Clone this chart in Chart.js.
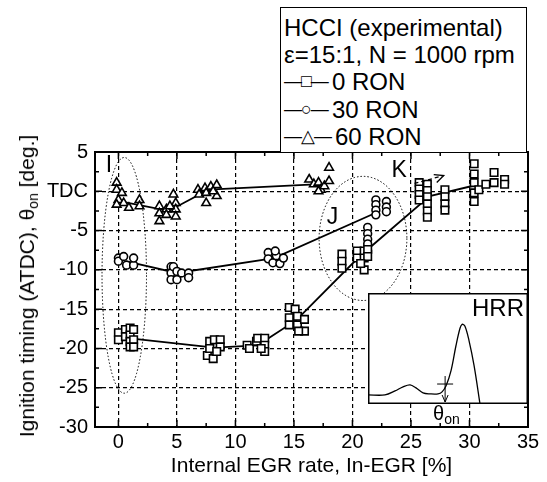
<!DOCTYPE html>
<html>
<head>
<meta charset="utf-8">
<script src="https://cdn.jsdelivr.net/npm/chart.js@4.4.1/dist/chart.umd.min.js"></script>
<style>
html, body { margin: 0; padding: 0; background: #fff; }
#wrap { position: relative; width: 547px; height: 482px; font-family: Arial, "Liberation Sans", sans-serif; color: #000; }
#main { position: absolute; left: 0; top: 0; }
#legend { position: absolute; left: 280px; top: 7px; width: 247px; height: 146px; box-sizing: border-box;
  border: 1.3px solid #000; background: #fff; font-size: 24px; line-height: 26.5px; padding: 7px 0 0 3px; white-space: nowrap; }
#legend .sym { font-size: 18px; letter-spacing: -1px; margin-right: 4px; vertical-align: 3px; }
#ytitle { position: absolute; left: 28px; top: 286px; transform: translate(-50%, -50%) rotate(-90deg);
  white-space: nowrap; font-size: 21px; }
#ytitle sub, #theta sub { font-size: 14px; vertical-align: -4px; }
#inset { position: absolute; left: 368px; top: 293px; width: 160px; height: 111px; }
#inset canvas { position: absolute; left: 0; top: 0; }
#hrr { position: absolute; right: 4px; top: 1px; font-size: 24px; }
#theta { position: absolute; left: 433px; top: 402px; font-size: 20px; }
</style>
</head>
<body>
<div id="wrap">
  <canvas id="main" width="547" height="482"></canvas>
  <div id="legend">
    HCCI (experimental)<br>
    ε=15:1, N = 1000 rpm<br>
    <span class="sym">—□—</span>0 RON<br>
    <span class="sym">—○—</span>30 RON<br>
    <span class="sym">—△—</span>60 RON
  </div>
  <div id="ytitle">Ignition timing (ATDC), θ<sub>on</sub> [deg.]</div>
  <div id="inset"><canvas id="hrrChart" width="160" height="111"></canvas><div id="hrr">HRR</div></div>
  <div id="theta">θ<sub>on</sub></div>
</div>
<script>
// ignition timing data (In-EGR %, deg ATDC)
const ron0X = [0, 0, 0.6, 0.6, 1, 1, 1, 1, 1.3, 1.3, 1.3,
  7.6, 7.8, 7.8, 8.1, 8.2, 8.7, 8.7, 8.4,
  11, 11.2, 11.8, 11.9, 12.5, 12.5, 12.5, 12.2,
  14.6, 14.6, 14.6, 15.1, 15.3, 15.3, 15.9, 15.9, 15.4,
  19.1, 19.1, 19.1, 20.4, 20.4, 21, 21, 21, 21.3, 21.3, 20.7,
  25.7, 25.7, 25.7, 25.7, 26.4, 26.4, 26.4, 26.4, 26.4, 26.4, 27.9, 27.9, 27.9, 27.9,
  30.4, 30.4, 30.4, 30.4, 30.4, 30.8, 31.4, 32.1, 32.1, 33, 33];
const ron0Y = [-18, -18.9, -17.6, -18.5, -17.4, -18.3, -19.1, -19.8, -17.6, -18.9, -19.8,
  -20.9, -19.1, -20, -21.3, -18.9, -18.9, -19.8, -20.4,
  -19.6, -20, -19.1, -18.7, -18.7, -19.6, -20.4, -20,
  -14.8, -16.1, -17, -15, -15.9, -17, -16.3, -17.8, -17.8,
  -8, -8.9, -9.8, -7.6, -8.5, -7.6, -8.5, -10, -7.4, -8.3, -9.2,
  1.1, 0.3, -0.4, -1.1, 0.9, 0.1, -0.7, -1.6, -2.5, -3.3, 0.2, -0.7, -1.6, -2.4,
  3.5, 2.2, 1.1, -0.2, -1.3, 0.2, 0.9, 2.4, 1.1, 1.5, 0.9];
const ron0MeanX = [0.8, 8.2, 11.9, 15.2, 20.6, 26.6, 30.6];
const ron0MeanY = [-18.7, -19.9, -19.6, -16.4, -8.3, -0.6, 0.8];

const ron30X = [0, 0, 0.45, 0.7, 1.3, 1.3,
  4.5, 4.5, 4.5, 4.7, 5, 5, 5.4, 6, 6,
  12.8, 12.8, 13.2, 13.5, 13.8, 14.1, 13.4,
  21.3, 21.3, 21.3, 21.3, 21.3, 22, 22, 22, 22, 22.9, 22.9, 22.9];
const ron30Y = [-8.5, -8.9, -8.3, -9.4, -9.4, -8.5,
  -9.6, -10.4, -11.25, -9.6, -10.2, -11.25, -10.4, -10.4, -11,
  -7.8, -8.6, -9.1, -8.2, -9.2, -8.5, -7.6,
  -4.6, -5.4, -6.1, -6.7, -7.6, -1.1, -1.7, -2.4, -3, -1.3, -2, -2.6];
const ron30MeanX = [0.6, 5.0, 13.3, 22.2];
const ron30MeanY = [-8.9, -10.4, -8.5, -2.6];

const ron60X = [-0.15, -0.15, 0.3, 0, 0.45, 0.9, 1.8, 1.8, -0.15,
  3.5, 3.5, 3.5, 4.1, 4.1, 4.7, 4.9, 4.9, 4.9, 4.4,
  6.8, 6.9, 7.4, 7.5, 7.5, 7.9, 8.4, 8.4, 8.1,
  16.3, 16.7, 17.1, 17.3, 17.6, 18, 18, 17.1];
const ron60Y = [1.1, 0.2, -0.2, -1.1, -1.5, -2.1, -1.1, -1.9, -1.7,
  -1.9, -2.8, -3.8, -2.3, -3.0, -0.4, -1.5, -2.3, -3.2, -1.9,
  0.2, -0.4, 0.4, -0.2, -1.5, 0.6, 0.8, -0.6, 0,
  1.5, 0.9, 1.1, 0.2, 0.65, 1.3, 3.0, 0];
const ron60MeanX = [0.6, 4.3, 7.7, 17.2];
const ron60MeanY = [-1.4, -2.5, 0.2, 0.9];

const xTicks = [0, 5, 10, 15, 20, 25, 30, 35];
const yTicks = [-30, -25, -20, -15, -10, -5, 0, 5];

// inset heat release rate trace (arbitrary units)
const hrrAngle = [0, 10.6, 16.9, 21.9, 26.3, 30, 34.4, 38.8, 43.8, 46.3, 48.8, 51.9, 55, 57.5, 58.8, 60.6, 63.1, 66.3, 70];
const hrrRate = [8.2, 8.2, 11.8, 15.5, 17.3, 14.5, 10, 9.1, 9.1, 10.9, 16.4, 30, 52.7, 68.2, 71.8, 70, 57.3, 34.5, 0];
const onsetAngle = 48.2;
const onsetRate = 18;

const FONT = 'Arial, "Liberation Sans", sans-serif';
const zip = (xs, ys) => xs.map((v, i) => ({x: v, y: ys[i]}));

const markerStyle = {
  borderColor: '#000', backgroundColor: '#fff', borderWidth: 1.6,
  showLine: false, order: 1
};
const meanStyle = {
  type: 'line', borderColor: '#000', borderWidth: 1.8, pointRadius: 0,
  fill: false, tension: 0, order: 2
};

const decor = {
  id: 'decor',
  afterDatasetsDraw(chart) {
    const {ctx, scales: {x, y}} = chart;
    ctx.save();
    ctx.strokeStyle = '#000';
    ctx.lineWidth = 1;
    ctx.setLineDash([1.5, 2]);
    const ellipse = (cx, cy, rx, ry) => {
      const px = x.getPixelForValue(cx), py = y.getPixelForValue(cy);
      const prx = Math.abs(x.getPixelForValue(cx + rx) - px);
      const pry = Math.abs(y.getPixelForValue(cy + ry) - py);
      ctx.beginPath();
      ctx.ellipse(px, py, prx, pry, 0, 0, Math.PI * 2);
      ctx.stroke();
    };
    ellipse(0.5, -10.7, 1.9, 15);
    ellipse(20.9, -6, 3.75, 7.9);

    // K arrow
    ctx.setLineDash([4, 3]);
    ctx.lineWidth = 1.3;
    const ax0 = x.getPixelForValue(25.3), ay0 = y.getPixelForValue(1.0);
    const ax1 = x.getPixelForValue(27.8), ay1 = y.getPixelForValue(2.0);
    ctx.beginPath();
    ctx.moveTo(ax0, ay0); ctx.lineTo(ax1, ay1);
    ctx.stroke();
    ctx.setLineDash([]);
    ctx.beginPath();
    ctx.moveTo(ax1 - 10, ay1 - 1); ctx.lineTo(ax1, ay1); ctx.lineTo(ax1 - 7, ay1 + 7);
    ctx.stroke();

    ctx.fillStyle = '#000';
    ctx.font = '23px ' + FONT;
    ctx.textAlign = 'center';
    ctx.textBaseline = 'middle';
    ctx.fillText('I', x.getPixelForValue(-0.8), y.getPixelForValue(3.2));
    ctx.fillText('J', x.getPixelForValue(18.3), y.getPixelForValue(-3.3));
    ctx.fillText('K', x.getPixelForValue(24), y.getPixelForValue(2.6));
    ctx.restore();
  },
  afterDraw(chart) {
    const {ctx, chartArea: a, scales: {x, y}} = chart;
    ctx.save();
    ctx.strokeStyle = '#000';
    ctx.lineWidth = 2;
    ctx.strokeRect(a.left, a.top, a.right - a.left, a.bottom - a.top);
    ctx.lineWidth = 1.5;
    ctx.beginPath();
    for (let v = 0; v <= 35; v += 2.5) {
      const p = x.getPixelForValue(v), L = v % 5 ? 4 : 7;
      ctx.moveTo(p, a.bottom); ctx.lineTo(p, a.bottom - L);
      ctx.moveTo(p, a.top); ctx.lineTo(p, a.top + L);
    }
    for (let v = -30; v <= 5; v += 2.5) {
      const p = y.getPixelForValue(v), L = v % 5 ? 4 : 7;
      ctx.moveTo(a.left, p); ctx.lineTo(a.left + L, p);
      ctx.moveTo(a.right, p); ctx.lineTo(a.right - L, p);
    }
    ctx.stroke();
    ctx.restore();
  }
};

new Chart(document.getElementById('main'), {
  type: 'scatter',
  plugins: [decor],
  data: {
    datasets: [
      {...markerStyle, label: '0 RON', data: zip(ron0X, ron0Y), pointStyle: 'rect', pointRadius: 5.3},
      {...markerStyle, label: '30 RON', data: zip(ron30X, ron30Y), pointStyle: 'circle', pointRadius: 3.9},
      {...markerStyle, label: '60 RON', data: zip(ron60X, ron60Y), pointStyle: 'triangle', pointRadius: 5},
      {...meanStyle, data: zip(ron0MeanX, ron0MeanY)},
      {...meanStyle, data: zip(ron30MeanX, ron30MeanY)},
      {...meanStyle, data: zip(ron60MeanX, ron60MeanY)}
    ]
  },
  options: {
    responsive: false,
    animation: false,
    layout: {padding: {left: 0, right: 19, top: 152, bottom: 0}},
    plugins: {legend: {display: false}, tooltip: {enabled: false}},
    scales: {
      x: {
        type: 'linear', min: -2, max: 35,
        afterBuildTicks: s => { s.ticks = xTicks.map(v => ({value: v})); },
        afterFit: s => { s.height = 55; },
        ticks: {font: {size: 20, family: FONT}, color: '#000', padding: 3, maxRotation: 0, autoSkip: false},
        grid: {color: '#000', lineWidth: 1.2, drawTicks: false},
        border: {display: false, dash: [4, 3]},
        title: {display: true, text: 'Internal EGR rate, In-EGR [%]', color: '#000',
          font: {size: 21, family: FONT}, padding: {top: 0, bottom: 3}}
      },
      y: {
        type: 'linear', min: -30, max: 5,
        afterBuildTicks: s => { s.ticks = yTicks.map(v => ({value: v})); },
        afterFit: s => { s.width = 95; },
        ticks: {font: {size: 20, family: FONT}, color: '#000', padding: 7,
          callback: v => v === 0 ? 'TDC' : v},
        grid: {color: '#000', lineWidth: 1.2, drawTicks: false},
        border: {display: false, dash: [4, 3]}
      }
    }
  }
});

const insetDecor = {
  id: 'insetDecor',
  beforeDraw(chart) {
    const {ctx, width, height} = chart;
    ctx.save();
    ctx.fillStyle = '#fff';
    ctx.fillRect(0, 0, width, height);
    ctx.restore();
  },
  afterDraw(chart) {
    const {ctx, width, height, scales: {x, y}} = chart;
    ctx.save();
    ctx.strokeStyle = '#000';
    ctx.lineWidth = 1.5;
    ctx.strokeRect(0.75, 0.75, width - 1.5, height - 1.5);
    const px = x.getPixelForValue(onsetAngle), py = y.getPixelForValue(onsetRate);
    ctx.lineWidth = 1;
    ctx.beginPath();
    ctx.moveTo(px - 8, py); ctx.lineTo(px + 8, py);
    ctx.moveTo(px, py - 8); ctx.lineTo(px, height - 2);
    ctx.moveTo(px - 3, height - 9); ctx.lineTo(px, height - 2); ctx.lineTo(px + 3, height - 9);
    ctx.stroke();
    ctx.restore();
  }
};

new Chart(document.getElementById('hrrChart'), {
  type: 'line',
  plugins: [insetDecor],
  data: {
    datasets: [{
      data: zip(hrrAngle, hrrRate),
      borderColor: '#000', borderWidth: 1.3, pointRadius: 0, tension: 0.35, fill: false
    }]
  },
  options: {
    responsive: false,
    animation: false,
    layout: {padding: 0},
    plugins: {legend: {display: false}, tooltip: {enabled: false}},
    scales: {
      x: {type: 'linear', min: 0, max: 100, display: false},
      y: {type: 'linear', min: 0, max: 100, display: false}
    }
  }
});
</script>
</body>
</html>
